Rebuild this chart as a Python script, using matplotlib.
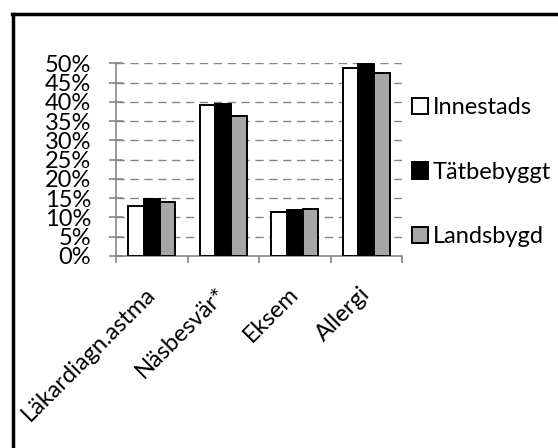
import matplotlib
matplotlib.use("Agg")
import matplotlib.pyplot as plt
from matplotlib.lines import Line2D
from matplotlib.ticker import FixedLocator, PercentFormatter
import numpy as np

plt.rcParams['font.family'] = ['Lato', 'DejaVu Sans']

categories = ["Läkardiagn.astma", "Näsbesvär*", "Eksem", "Allergi"]
series_names = ["Innestads", "Tätbebyggt", "Landsbygd"]
innestads = [13.0, 39.1, 11.4, 48.9]
tatbebyggt = [14.9, 39.5, 11.9, 50.0]
landsbygd = [13.9, 36.3, 12.1, 47.5]
yticks = [0, 5, 10, 15, 20, 25, 30, 35, 40, 45, 50]

colors = ["#ffffff", "#000000", "#a6a6a6"]
grid_color = "#868686"
FS = 17

fig = plt.figure(figsize=(5.58, 4.48), dpi=100)
ax = fig.add_axes([116/558, 1-256/448, 286/558, (256-63.3)/448])

x = np.arange(len(categories))
w = 0.22
for i, (vals, c, name) in enumerate(zip([innestads, tatbebyggt, landsbygd], colors, series_names)):
    ax.bar(x + (i-1)*w, vals, width=w, color=c, edgecolor="black", linewidth=1.4,
           label=name, zorder=3)

ax.set_xlim(-0.5, len(categories)-0.5)
ax.set_ylim(0, 50)
ax.set_yticks(yticks)
ax.yaxis.set_major_formatter(PercentFormatter(decimals=0))
for t in yticks[1:]:
    ax.axhline(t, color=grid_color, linewidth=1.0, linestyle=(0, (6, 4)), zorder=1)

for s in ["top", "right"]:
    ax.spines[s].set_visible(False)
for s in ["left", "bottom"]:
    ax.spines[s].set_color(grid_color)
    ax.spines[s].set_linewidth(1.2)

ax.tick_params(axis='y', direction='inout', length=10, width=1.2, color=grid_color,
               labelsize=FS, pad=13)
ax.set_xticks(x)
ax.set_xticklabels(categories, rotation=45, ha='right', va='center',
                   rotation_mode='anchor', fontsize=FS)
ax.tick_params(axis='x', which='major', length=0, pad=25)
ax.xaxis.set_minor_locator(FixedLocator(np.arange(len(categories)+1) - 0.5))
ax.tick_params(axis='x', which='minor', direction='out', length=5, width=1.2, color=grid_color)

leg = ax.legend(loc='upper left', bbox_to_anchor=(412/558, 1-97/448), bbox_transform=fig.transFigure,
                frameon=False, fontsize=FS, handlelength=0.68, handleheight=0.68,
                handletextpad=0.2, labelspacing=1.85, borderpad=0, borderaxespad=0)

fig.add_artist(Line2D([13/558, 13/558], [0, 1-14/448], color='black', linewidth=2.5,
                      transform=fig.transFigure))
fig.add_artist(Line2D([12/558, 1], [1-14/448, 1-14/448], color='black', linewidth=2.5,
                      transform=fig.transFigure))

fig.savefig("out.png", dpi=100)
